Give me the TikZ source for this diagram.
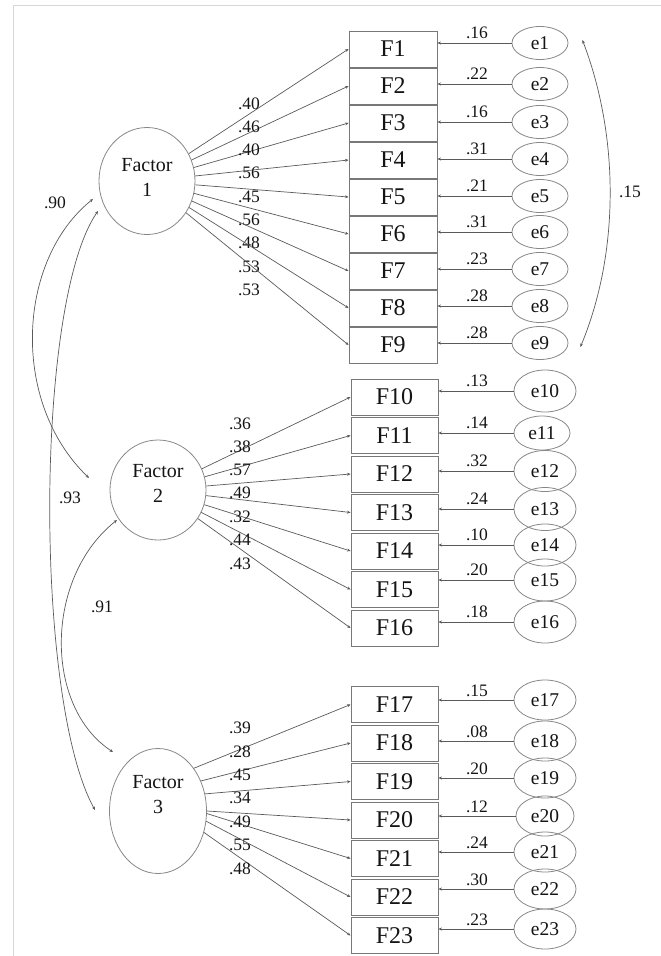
\documentclass[tikz,border=0pt]{standalone}
\usepackage{fontspec}
\setmainfont{Liberation Serif}
\newfontfamily\tnrfont{Liberation Serif}
\usetikzlibrary{shapes.geometric,arrows.meta,calc}
\definecolor{linec}{RGB}{90,90,90}
\definecolor{ellc}{RGB}{135,135,135}
\definecolor{boxc}{RGB}{120,120,120}
\definecolor{textc}{RGB}{20,20,20}
\definecolor{framec}{RGB}{215,215,215}
\begin{document}
\begin{tikzpicture}[x=1pt,y=-1pt,
  every node/.style={text=textc},
  box/.style={draw=boxc, line width=0.9pt, minimum width=88pt, minimum height=36pt, inner sep=0pt, font=\tnrfont\fontsize{24}{26}\selectfont},
  errell/.style={draw=ellc, ellipse, line width=0.8pt, inner sep=0pt, font=\tnrfont\fontsize{19.5}{22}\selectfont},
  fac/.style={draw=ellc, ellipse, line width=0.8pt, inner sep=0pt},
  factxt/.style={align=center, font=\tnrfont\fontsize{20}{24.5}\selectfont, inner sep=0pt},
  num/.style={font=\tnrfont\fontsize{17.5}{20}\selectfont, inner sep=0pt},
  arr/.style={draw=linec, line width=0.7pt, -{Stealth[length=3.5pt,width=3pt]}},
  biarr/.style={draw=linec, line width=0.7pt, {Stealth[length=3.5pt,width=3pt]}-{Stealth[length=3.5pt,width=3pt]}},
]
\useasboundingbox (0,0) rectangle (661,956);
\draw[framec, line width=0.8pt] (13,956) -- (13,5) -- (661,5);

% factors
\node[fac, minimum width=96pt, minimum height=107pt] (f1) at (147,181) {};
\node[factxt] (f1t) at (147,177.5) {Factor\\1};
\node[fac, minimum width=96pt, minimum height=100pt] (f2) at (158,490) {};
\node[factxt] (f2t) at (158,483.5) {Factor\\2};
\node[fac, minimum width=97pt, minimum height=125pt] (f3) at (158,811) {};
\node[factxt] (f3t) at (158,794.5) {Factor\\3};

% group 1
\foreach \i/\by/\ey/\ld/\ly/\er in {
  1/49/43/.40/103.5/.16, 2/86/84/.46/127/.22, 3/123/122/.40/150/.16,
  4/160/159/.56/173/.31, 5/197/196/.45/197/.21, 6/234/232/.56/220/.31,
  7/271/269/.48/243/.23, 8/308/306/.53/267/.28, 9/345/343/.53/290/.28}{
  \node[box] (F\i) at (393,\by) {F\i};
  \node[errell, minimum width=56pt, minimum height=33pt] (e\i) at (540,\ey) {e\i};
  \draw[arr] (f1) -- (F\i.west);
  \node[num] (l\i) at (249,\ly) {\ld};
  \draw[arr] (e\i.west) -- (e\i.west -| F\i.east);
  \node[num] (v\i) at (477,\ey-10.5) {\er};
}

% group 2
\foreach \i/\by/\ey/\ex/\ew/\eh/\ld/\ly/\er in {
  10/397/391/545/62/42/.36/423.5/.13, 11/435.5/433/542/56/34/.38/447/.14,
  12/474/471/545/62/41/.57/470/.32, 13/512.5/509/545/62/43/.49/493/.24,
  14/551/545/545/62/42/.32/517/.10, 15/589.5/580/545/62/42/.44/540/.20,
  16/628/622/545/62/42/.43/564/.18}{
  \node[box, minimum width=87pt] (F\i) at (394.5,\by) {F\i};
  \node[errell, minimum width=\ew pt, minimum height=\eh pt] (e\i) at (\ex,\ey) {e\i};
  \draw[arr] (f2) -- (F\i.west);
  \node[num] (l\i) at (240,\ly) {\ld};
  \draw[arr] (e\i.west) -- (e\i.west -| F\i.east);
  \node[num] (v\i) at (477,\ey-10.5) {\er};
}

% group 3
\foreach \i/\by/\ey/\ew/\an/\ld/\ly/\er in {
  17/704.5/700/62/50/.39/728/.15, 18/743/741/62/35/.28/752/.08,
  19/781.5/778/62/20/.45/775/.20, 20/820/816/58/0/.34/798/.12,
  21/858.5/852/62/-3/.49/822/.24, 22/897/889/62/-12/.55/845/.30,
  23/935.5/929/62/-25/.48/869/.23}{
  \node[box, minimum width=87pt] (F\i) at (394.5,\by) {F\i};
  \node[errell, minimum width=\ew pt, minimum height=40pt] (e\i) at (545,\ey) {e\i};
  \draw[arr] (f3.\an) -- (F\i.west);
  \node[num] (l\i) at (240,\ly) {\ld};
  \draw[arr] (e\i.west) -- (e\i.west -| F\i.east);
  \node[num] (v\i) at (477,\ey-9.5) {\er};
}

% factor covariances
\draw[biarr] ($(f1)+(-54,18)$) .. controls (17,260) and (10,402) .. ($(f2)+(-69,-12)$);
\draw[biarr] ($(f1)+(-49,30)$) .. controls (34.5,303) and (34.5,701) .. ($(f3)+(-63,-1)$);
\draw[biarr] ($(f2)+(-41,30)$) .. controls (44,578) and (44,707) .. ($(f3)+(-45,-59)$);
\node[num] (c12) at (55,203) {.90};
\node[num] (c13) at (70,498) {.93};
\node[num] (c23) at (102,607) {.91};

% error covariance
\draw[biarr] ($(e1.east)+(14,-3)$) .. controls (619.5,137) and (619.5,253) .. ($(e9.east)+(12,4)$);
\node[num] (c19) at (630,192) {.15};
\end{tikzpicture}
\end{document}
